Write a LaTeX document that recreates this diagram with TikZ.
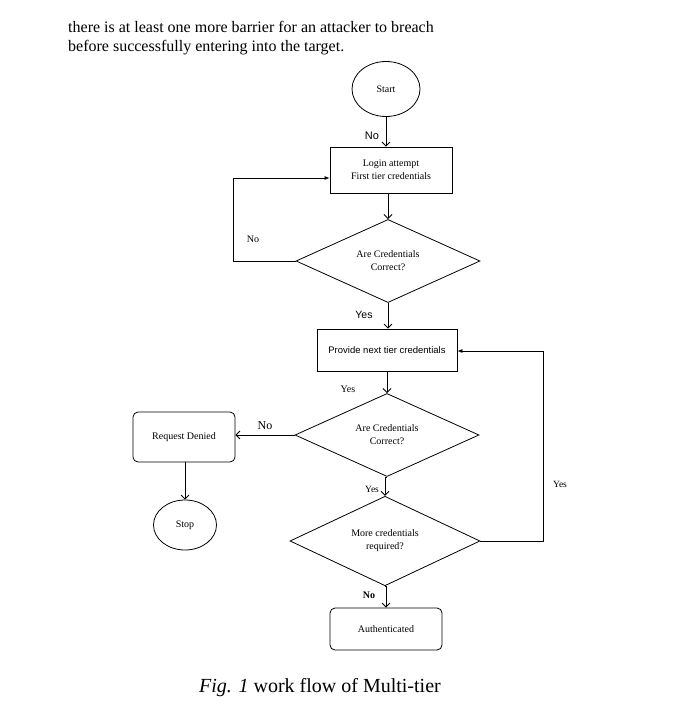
\documentclass[tikz,border=0pt]{standalone}
\usepackage{fontspec}
\setmainfont{Liberation Serif}
\newfontfamily\arialfont{Liberation Sans}
\usetikzlibrary{positioning, arrows.meta, shapes.geometric, calc}

\begin{document}
\begin{tikzpicture}
[x=1pt, y=-1pt,
 term/.style={ellipse, draw, thick, inner sep=0pt, font=\fontsize{10}{12}\selectfont},
 proc/.style={rectangle, draw, thick, inner sep=0pt, font=\fontsize{10}{13}\selectfont},
 rproc/.style={rectangle, rounded corners=5pt, draw, thick, inner sep=0pt, font=\fontsize{10}{13}\selectfont},
 deci/.style={diamond, draw, thick, inner sep=0pt, font=\fontsize{10}{13}\selectfont},
 lbl/.style={inner sep=0pt, font=\fontsize{10}{12}\selectfont},
 ->/.style={thick, arrows={-Straight Barb[length=4pt, width=8pt]}},
 back/.style={thick, arrows={-Latex[length=5pt, width=4pt]}},
 every text node part/.style={align=center}]

\useasboundingbox (0,0) rectangle (688,723);

% running text above and caption below
\node[anchor=base west, inner sep=0pt, font=\fontsize{16}{19}\selectfont] (para1) at (68,32)
  {there is at least one more barrier for an attacker to breach};
\node[anchor=base west, inner sep=0pt, font=\fontsize{16}{19}\selectfont] (para2) at (68,51)
  {before successfully entering into the target.};
\node[anchor=base, inner sep=0pt, font=\fontsize{20}{24}\selectfont] (caption) at (320,692)
  {\textit{Fig. 1} work flow of Multi-tier};

% main column
\node[term, minimum width=68pt, minimum height=55pt] (start) at (386,89) {Start};
\node[proc, minimum width=122pt, minimum height=46pt] (login) at (391,170)
  {Login attempt\\First tier credentials};
\node[deci, minimum width=184pt, minimum height=76pt] (check1) at (388,261)
  {Are Credentials\\Correct?};
\node[proc, minimum width=140pt, minimum height=42pt, font=\arialfont\fontsize{9.5}{12}\selectfont]
  (next) at (387,350) {Provide next tier credentials};
\node[deci, minimum width=184pt, minimum height=76pt] (check2) at (387,435)
  {Are Credentials\\Correct?};
\node[deci, minimum width=190pt, minimum height=73pt] (more) at (385,541)
  {More credentials\\required?};
\node[rproc, minimum width=112pt, minimum height=42pt] (auth) at (386,629) {Authenticated};

% left branch
\node[rproc, minimum width=102pt, minimum height=50pt] (denied) at (184,437) {Request Denied};
\node[term, minimum width=63pt, minimum height=50pt] (stop) at (185,525) {Stop};

% labels on the connectors
\node[lbl, font=\arialfont\fontsize{11}{12}\selectfont] (lno1) at (372,136) {No};
\node[lbl] (lno2) at (253,239) {No};
\node[lbl, font=\arialfont\fontsize{10.5}{12}\selectfont] (lyes1) at (364,315) {Yes};
\node[lbl] (lyes2) at (348,389) {Yes};
\node[lbl, font=\fontsize{12}{14}\selectfont] (lno3) at (265,426) {No};
\node[lbl, font=\fontsize{9.5}{12}\selectfont] (lyes3) at (372,489) {Yes};
\node[lbl, font=\fontsize{9.5}{12}\selectfont] (lyes4) at (560,484) {Yes};
\node[lbl, font=\bfseries\fontsize{10}{12}\selectfont] (lno4) at (369,595) {No};

% corners of the two loops
\coordinate (loopl) at (233,178);
\coordinate (loopr) at (543,351);

\draw [->] (start) -- (start |- login.north);
\draw [->] (login.south -| check1.north) -- (check1.north);
\draw [->] (check1.south) -- (check1.south |- next.north);
\draw [->] (next.south -| check2.north) -- (check2.north);
\draw [->] (check2.south) -- (check2.south -| more.north) -- (more.north);
\draw [->] (more.south) -- (more.south -| auth.north) -- (auth.north);
\draw [->] (check2.west) -- (denied.east |- check2.west);
\draw [->] (denied.south -| stop.north) -- (stop.north);
\draw [back] (check1.west) -| (loopl) -- (login.west |- loopl);
\draw [back] (more.east) -| (loopr) -- (next.east |- loopr);

\end{tikzpicture}
\end{document}
